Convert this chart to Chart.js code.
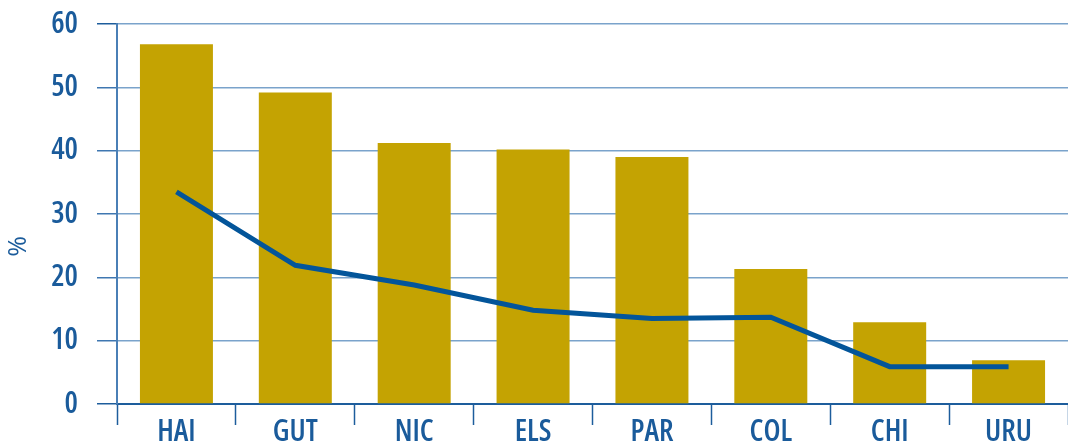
<!DOCTYPE html>
<html>
<head>
<meta charset="utf-8">
<script src="https://cdn.jsdelivr.net/npm/chart.js@4.4.1/dist/chart.umd.min.js"></script>
<style>
  html, body { margin: 0; padding: 0; background: #fff; overflow: hidden; }
  #wrap { width: 1068px; height: 445px; position: relative; }
</style>
</head>
<body>
<div id="wrap"><canvas id="c"></canvas></div>
<script>
// Country codes along the x axis
const categories = ['HAI', 'GUT', 'NIC', 'ELS', 'PAR', 'COL', 'CHI', 'URU'];
// Bar series (%)
const barValues = [56.8, 49.2, 41.2, 40.2, 39.0, 21.3, 12.9, 6.9];
// Line series (%)
const lineValues = [33.5, 21.9, 18.8, 14.8, 13.5, 13.7, 5.9, 5.9];
// Value axis ticks
const yTicks = [0, 10, 20, 30, 40, 50, 60];
const yTitle = '%';

const FONT = "'Open Sans', Roboto, sans-serif";
const WEIGHT = '600 condensed';   // condensed width of the variable face
const TEXT = '#1a5b9b';
const GOLD = '#c4a302';
const LINE = '#03559a';
const GRID = '#7aa3cb';
const DARK = '#1d5d9c';

// Draws the rotated "%" axis caption
const axisCaption = {
  id: 'axisCaption',
  afterDraw(chart) {
    const { ctx, chartArea } = chart;
    const y = chartArea.top + (chartArea.bottom - chartArea.top) * 0.585;
    ctx.save();
    ctx.translate(19, y);
    ctx.rotate(-Math.PI / 2);
    ctx.fillStyle = TEXT;
    ctx.font = "normal 25px " + FONT;
    ctx.textAlign = 'center';
    ctx.textBaseline = 'middle';
    ctx.fillText(yTitle, 0, 0);
    ctx.restore();
  }
};

new Chart(document.getElementById('c'), {
  type: 'bar',
  data: {
    labels: categories,
    datasets: [
      {
        type: 'line',
        data: lineValues,
        borderColor: LINE,
        borderWidth: 5,
        pointRadius: 0,
        pointHoverRadius: 0,
        tension: 0,
        fill: false,
        order: 0
      },
      {
        type: 'bar',
        data: barValues,
        backgroundColor: GOLD,
        borderWidth: 0,
        barPercentage: 0.614,
        categoryPercentage: 1,
        order: 1
      }
    ]
  },
  options: {
    responsive: true,
    maintainAspectRatio: false,
    animation: false,
    layout: { padding: { top: 24, right: 0, bottom: 0, left: 0 } },
    plugins: {
      legend: { display: false },
      tooltip: { enabled: false }
    },
    scales: {
      x: {
        offset: true,
        border: { display: true, color: DARK, width: 2 },
        grid: {
          display: true,
          offset: true,
          drawOnChartArea: false,
          drawTicks: true,
          tickLength: 21,
          tickColor: DARK,
          tickWidth: 1.5
        },
        ticks: {
          color: TEXT,
          padding: -8,
          font: { family: FONT, size: 30, weight: WEIGHT, lineHeight: 1 },
          maxRotation: 0,
          autoSkip: false
        },
        afterFit(scale) {
          scale.height = 41;
          scale.paddingLeft = 0;
          scale.paddingRight = 0;
        }
      },
      y: {
        min: yTicks[0],
        max: yTicks[yTicks.length - 1],
        afterBuildTicks(scale) { scale.ticks = yTicks.map(v => ({ value: v })); },
        border: { display: true, color: '#4a7fb6', width: 2 },
        grid: {
          color: ctx => (ctx.tick && ctx.tick.value === 0) ? DARK : GRID,
          lineWidth: 1.5,
          drawTicks: true,
          tickLength: 20,
          tickColor: ctx => (ctx.tick && (ctx.tick.value === 0 || ctx.tick.value === 60)) ? DARK : '#3f77b1',
          tickWidth: 1.5
        },
        ticks: {
          color: TEXT,
          padding: 19,
          font: { family: FONT, size: 30, weight: WEIGHT, lineHeight: 1 }
        },
        afterFit(scale) {
          scale.width = 117;
          scale.paddingTop = 0;
          scale.paddingBottom = 0;
        }
      }
    }
  },
  plugins: [axisCaption]
});
</script>
</body>
</html>
